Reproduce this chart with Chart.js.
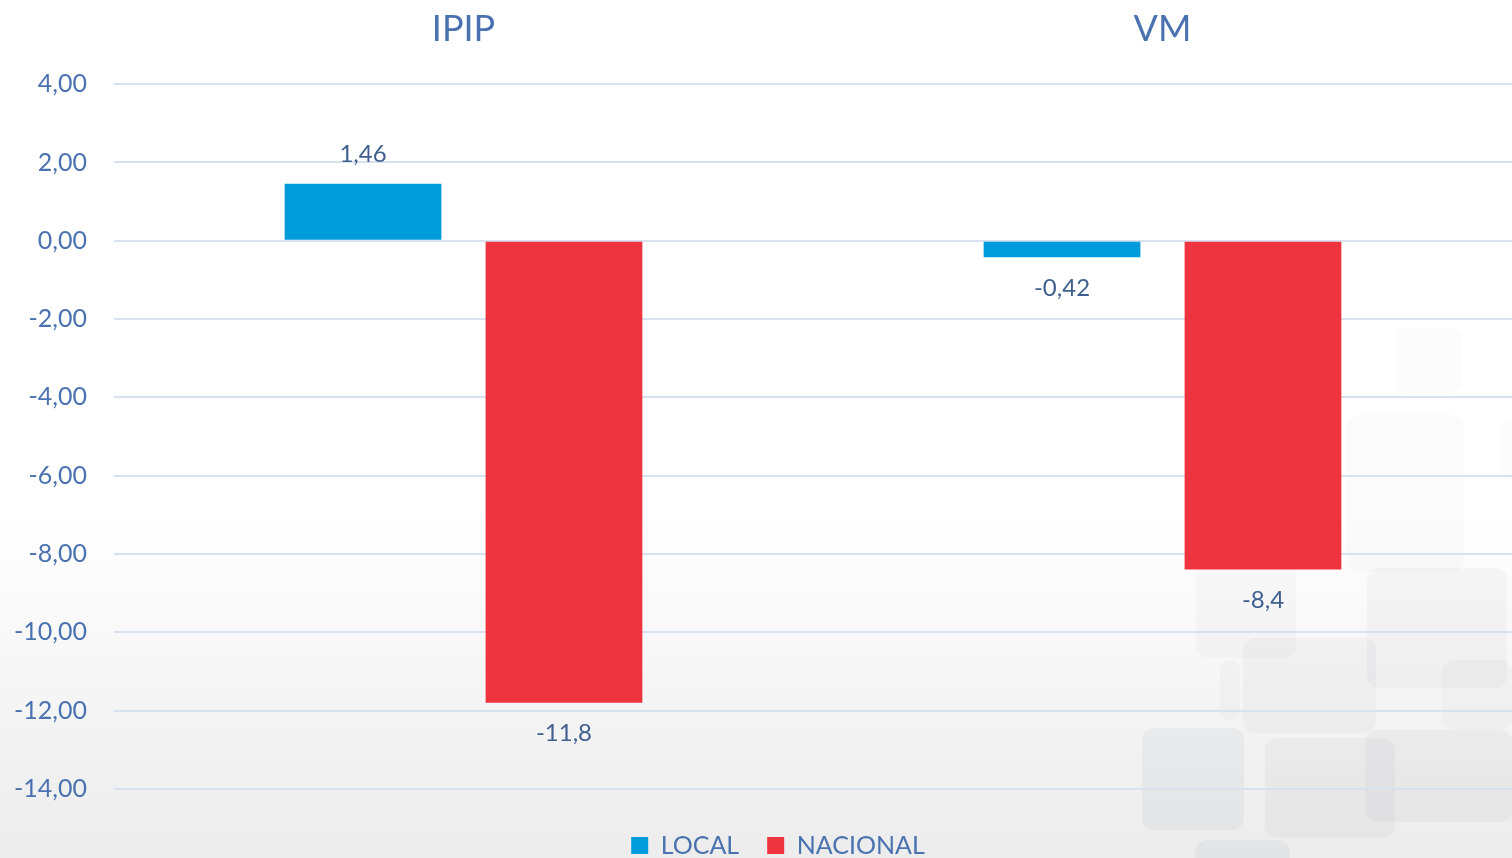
<!DOCTYPE html>
<html>
<head>
    <meta charset="utf-8"/>
    <title>IPIP / VM</title>
    <style>
        html, body { margin: 0; padding: 0; background: #fff; }
        #wrap { width: 1512px; height: 858px; position: relative; }
    </style>
    <script src="https://cdn.jsdelivr.net/npm/chart.js@4/dist/chart.umd.min.js"></script>
</head>
<body>
<div id="wrap"><canvas id="chart"></canvas></div>
<script>
    // valores
    const categorias = ['IPIP', 'VM'];
    const local = [1.46, -0.42];
    const nacional = [-11.8, -8.4];
    const etiquetasLocal = ['1,46', '-0,42'];
    const etiquetasNacional = ['-11,8', '-8,4'];

    const textColor = '#4A72B0';
    const labelColor = '#3F5F8E';
    const fontName = 'Lato, "Open Sans", sans-serif';

    // fondo degradado + cuadrados decorativos
    const fondo = {
        id: 'fondo',
        beforeDraw(chart) {
            const ctx = chart.ctx;
            const w = chart.width, h = chart.height;
            ctx.save();
            const g = ctx.createLinearGradient(0, 0, 0, h);
            g.addColorStop(0, '#ffffff');
            g.addColorStop(0.6, '#ffffff');
            g.addColorStop(1, '#ececec');
            ctx.fillStyle = g;
            ctx.fillRect(0, 0, w, h);

            const cajas = [
                [1395, 327, 67, 66, 0.02], [1347, 415, 117, 157, 0.03],
                [1196, 552, 100, 106, 0.04], [1243, 638, 133, 95, 0.05],
                [1367, 568, 140, 120, 0.05], [1220, 660, 20, 60, 0.04],
                [1142, 728, 102, 102, 0.08], [1365, 730, 147, 92, 0.06],
                [1265, 738, 130, 100, 0.06], [1195, 840, 95, 30, 0.07],
                [1442, 660, 70, 70, 0.04], [1500, 420, 20, 60, 0.03]
            ];
            cajas.forEach(([x, y, bw, bh, a]) => {
                ctx.fillStyle = `rgba(120,125,135,${a})`;
                ctx.beginPath();
                ctx.roundRect(x, y, bw, bh, 12);
                ctx.fill();
            });
            ctx.restore();
        }
    };

    // etiquetas de datos
    const etiquetas = {
        id: 'etiquetas',
        afterDatasetsDraw(chart) {
            const ctx = chart.ctx;
            ctx.save();
            ctx.font = `24px ${fontName}`;
            ctx.fillStyle = labelColor;
            ctx.textAlign = 'center';
            ctx.textBaseline = 'middle';
            chart.data.datasets.forEach((ds, i) => {
                const meta = chart.getDatasetMeta(i);
                meta.data.forEach((bar, j) => {
                    const v = ds.data[j];
                    const y = v >= 0 ? bar.y - 29 : bar.y + 31;
                    ctx.fillText(ds.etiquetas[j], bar.x, y);
                });
            });
            ctx.restore();
        }
    };

    // la leyenda va un poco a la derecha
    const moverLeyenda = {
        id: 'moverLeyenda',
        afterLayout(chart) {
            chart.legend.left += 22;
            chart.legend.right += 22;
        }
    };

    const chart_config = {
        type: 'bar',
        data: {
            labels: categorias,
            datasets: [
                {
                    label: 'LOCAL',
                    data: local,
                    etiquetas: etiquetasLocal,
                    backgroundColor: '#009BDB',
                    borderWidth: 0,
                },
                {
                    label: 'NACIONAL',
                    data: nacional,
                    etiquetas: etiquetasNacional,
                    backgroundColor: '#EE343F',
                    borderWidth: 0,
                },
            ],
        },
        options: {
            responsive: true,
            maintainAspectRatio: false,
            animation: false,
            categoryPercentage: 0.575,
            barPercentage: 0.78,
            layout: { padding: { top: -25, right: 0, bottom: -10, left: 0 } },
            scales: {
                x: {
                    position: 'top',
                    grid: { display: false, drawTicks: false },
                    border: { display: false },
                    ticks: {
                        color: textColor,
                        font: { family: fontName, size: 36 },
                        padding: 33,
                    },
                },
                y: {
                    min: -14,
                    max: 4,
                    grid: { color: '#D8E1EE', lineWidth: 2, drawTicks: false },
                    border: { display: false },
                    ticks: {
                        stepSize: 2,
                        color: textColor,
                        font: { family: fontName, size: 25 },
                        padding: 27,
                        callback: (v) => v.toFixed(2).replace('.', ','),
                    },
                    afterFit: (axis) => { axis.width = 114; },
                },
            },
            plugins: {
                legend: {
                    position: 'bottom',
                    title: { display: true, text: '', font: { size: 1 }, padding: { top: 0, bottom: 15 } },
                    labels: {
                        boxWidth: 17,
                        boxHeight: 17,
                        color: textColor,
                        font: { family: fontName, size: 25 },
                        padding: 28,
                    },
                },
                tooltip: { enabled: false },
            },
        },
        plugins: [fondo, etiquetas, moverLeyenda],
    };

    const chart = new Chart(document.getElementById('chart').getContext('2d'), chart_config);
</script>
</body>
</html>
